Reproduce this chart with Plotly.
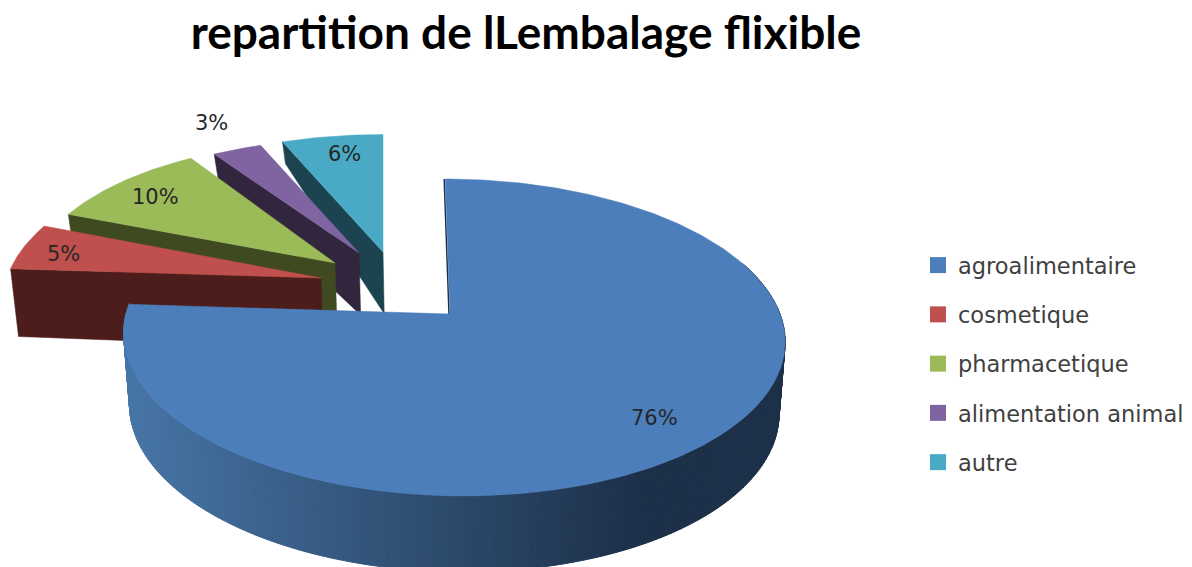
import numpy as np
import plotly.graph_objects as go

# Chart data
categories = ["agroalimentaire", "cosmetique", "pharmacetique", "alimentation animal", "autre"]
values = [76, 5, 10, 3, 6]
title_text = "repartition de lLembalage flixible"

# Styling per slice
top_colors = ["#4c7ebb", "#bf504d", "#9bbb59", "#8064a2", "#4aaac5"]
wall_colors = ["#1d3049", "#4c1d1b", "#3f4a20", "#32263f", "#1b4450"]

# Exploded slices: apex position and shrink factors of the receding wedge
apex_x = [450, 321, 335, 359, 383]
apex_y = [314, 278, 263, 253, 252]
scale_x = [1.0, 0.96, 0.925, 0.93, 0.95]
scale_y = [1.0, 0.96, 0.90, 0.85, 0.87]
label_x = [654, 63, 155, 211, 344]
label_y = [418, 254, 197, 123, 154]

# Perspective of the tilted disc
RADIUS_X, RADIUS_Y, PERSPECTIVE = 327.0, 155.0, 0.148
BODY_RIM_SHIFT, BODY_SKEW = 3.0, -9.0
WALL_SHRINK = 0.982
CENTER_X = 450.0


def rim(theta):
    """Screen offset from the disc centre of a rim point, angle clockwise from north."""
    t = np.radians(theta)
    px, py = np.sin(t), np.cos(t)
    w = 1 + PERSPECTIVE * py
    return RADIUS_X * px / w, -RADIUS_Y * py / w


def depth(y):
    """Wall height grows toward the viewer, quickly at the back and slowly at the front."""
    return np.interp(y, [142, 275, 497], [22, 70, 76])


def floor(x, y):
    return CENTER_X + (x - CENTER_X) * WALL_SHRINK, y + depth(y)


def polygon(x, y, color, line=0):
    return go.Scatter(
        x=x, y=y, mode="lines", fill="toself", fillcolor=color,
        line=dict(color=color, width=line), hoverinfo="skip", showlegend=False,
    )


def lerp_color(a, b, f):
    ca = [int(a[i:i + 2], 16) for i in (1, 3, 5)]
    cb = [int(b[i:i + 2], 16) for i in (1, 3, 5)]
    return "rgb({},{},{})".format(*[round(p + (q - p) * f) for p, q in zip(ca, cb)])


fractions = np.cumsum([0] + values) / sum(values) * 360
fig = go.Figure()

# Pulled slices, back to front, each with the wall of its start edge
for i in [4, 3, 2, 1]:
    start, end = fractions[i], fractions[i + 1]
    ax, ay = apex_x[i], apex_y[i]
    th = np.linspace(start, end, 40)
    ox, oy = rim(th)
    x = ax + scale_x[i] * ox
    y = ay + scale_y[i] * oy
    edge_x = np.array([x[0], ax])
    edge_y = np.array([y[0], ay])
    low_x, low_y = floor(edge_x, edge_y)
    fig.add_trace(polygon(
        np.r_[edge_x, low_x[::-1], edge_x[0]],
        np.r_[edge_y, low_y[::-1], edge_y[0]],
        wall_colors[i], 0.5,
    ))
    fig.add_trace(polygon(np.r_[ax, x, ax], np.r_[ay, y, ay], top_colors[i], 0.5))

# Main slice: shaded outer wall drawn as narrow strips, then the top face
start, end = fractions[0], fractions[1]
body_cx = apex_x[0] + BODY_RIM_SHIFT
body_cy = apex_y[0]


def body_rim(theta):
    ox, oy = rim(theta)
    py = np.cos(np.radians(theta))
    return body_cx + ox + BODY_SKEW * py / (1 + PERSPECTIVE * py), body_cy + oy


edges = np.arange(70.0, end + 1.0, 1.0)
for a, b in zip(edges[:-1], edges[1:]):
    th = np.linspace(a, b, 3)
    tx, ty = body_rim(th)
    bx, by = floor(tx, ty)
    f = np.clip((tx.mean() - 125) / (640 - 125), 0, 1)
    shade = lerp_color("#4675a6", "#1d3049", f)
    fig.add_trace(polygon(np.r_[tx, bx[::-1], tx[0]], np.r_[ty, by[::-1], ty[0]], shade, 1))

th = np.linspace(start, end, 300)
tx, ty = body_rim(th)
north_x, north_y = body_rim(np.array([start]))
fig.add_trace(go.Scatter(
    x=[north_x[0] - 1, apex_x[0] - 1], y=[north_y[0], apex_y[0]], mode="lines",
    line=dict(color=wall_colors[0], width=1.5), hoverinfo="skip", showlegend=False,
))
fig.add_trace(polygon(np.r_[apex_x[0], tx, apex_x[0]], np.r_[apex_y[0], ty, apex_y[0]], top_colors[0], 0.5))

# Legend entries, one group per row so the row gap can be set
for i, name in enumerate(categories):
    fig.add_trace(go.Scatter(
        x=[None], y=[None], mode="markers", name=name, legendgroup=name,
        marker=dict(symbol="square", size=17, color=top_colors[i]),
    ))

# Percentage labels
for v, lx, ly in zip(values, label_x, label_y):
    fig.add_annotation(
        x=lx, y=ly, text=f"{v}%", showarrow=False,
        font=dict(family="DejaVu Sans", size=21, color="#262626"),
    )

fig.update_layout(
    width=1192, height=567,
    margin=dict(l=0, r=0, t=0, b=0),
    paper_bgcolor="white", plot_bgcolor="white",
    title=dict(
        text=f"<b>{title_text}</b>", x=526 / 1192, xanchor="center",
        y=1 - 33 / 567, yanchor="middle",
        font=dict(family="Lato", size=46, color="black"),
    ),
    xaxis=dict(range=[0, 1192], visible=False, fixedrange=True),
    yaxis=dict(range=[567, 0], visible=False, fixedrange=True),
    legend=dict(
        x=918 / 1192, xanchor="left", y=1 - 244 / 567, yanchor="top",
        font=dict(family="DejaVu Sans", size=22.5, color="#404040"),
        tracegroupgap=17, itemwidth=30, bgcolor="rgba(0,0,0,0)",
    ),
)
fig.write_html("out.html")
